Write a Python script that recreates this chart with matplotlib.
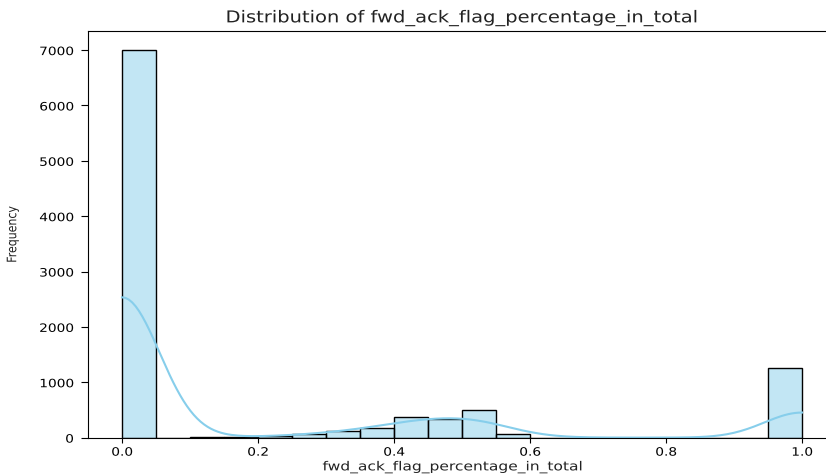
import numpy as np
import matplotlib
matplotlib.use("Agg")
import matplotlib.pyplot as plt
import seaborn as sns
from matplotlib.patheffects import AbstractPathEffect
from matplotlib.transforms import Affine2D

# ---- data ----
bin_values = [0.0, 0.125, 0.175, 0.225, 0.275, 0.325, 0.375, 0.425, 0.475, 0.525, 0.575, 1.0]
bin_counts = [7000, 10, 10, 20, 60, 115, 170, 375, 330, 505, 60, 1250]
x_ticks = [0.0, 0.2, 0.4, 0.6, 0.8, 1.0]
y_ticks = [0, 1000, 2000, 3000, 4000, 5000, 6000, 7000]
title = "Distribution of fwd_ack_flag_percentage_in_total"
x_label = "fwd_ack_flag_percentage_in_total"
y_label = "Frequency"

samples = np.repeat(bin_values, bin_counts)


class HStretch(AbstractPathEffect):
    """Stretch text horizontally (the reference image is stretched)."""
    def __init__(self, sx=1.19, anchor="center"):
        super().__init__()
        self.sx = sx
        self.anchor = anchor

    def draw_path(self, renderer, gc, tpath, affine, rgbFace=None):
        v = affine.transform(tpath.vertices)
        if len(v) == 0:
            return
        if self.anchor == "right":
            cx = v[:, 0].max()
        elif self.anchor == "left":
            cx = v[:, 0].min()
        else:
            cx = 0.5 * (v[:, 0].min() + v[:, 0].max())
        new = affine + Affine2D().translate(-cx, 0).scale(self.sx, 1).translate(cx, 0)
        renderer.draw_path(gc, tpath, new, rgbFace)


fig = plt.figure(figsize=(8.26, 4.77), dpi=100)
ax = fig.add_axes([88 / 826, 1 - 438.6 / 477, 748 / 826, (438.6 - 31.7) / 477])

sns.histplot(samples, bins=20, binrange=(0, 1), kde=True, color="skyblue",
             edgecolor="black", ax=ax)

ax.set_xticks(x_ticks)
ax.set_yticks(y_ticks)
ax.set_xlim(-0.05, 1.05)
ax.set_ylim(0, 7350)

t = ax.set_title(title, fontsize=11.8, color="#222222")
t.set_path_effects([HStretch(1.19)])
xl = ax.set_xlabel(x_label, fontsize=9.0, color="#222222")
xl.set_path_effects([HStretch(1.24)])
ax.xaxis.set_label_coords(0.488, -0.056)
yl = ax.set_ylabel(y_label, fontsize=7.9, color="#222222")
yl.set_path_effects([HStretch(1.19)])
ax.yaxis.set_label_coords(-0.094, 0.5)

ax.tick_params(axis="x", labelsize=8.3, pad=2.3, length=3.5)
ax.tick_params(axis="y", labelsize=8.3, pad=5.3, length=5)
for lab in ax.get_xticklabels():
    lab.set_path_effects([HStretch(1.19)])
for lab in ax.get_yticklabels():
    lab.set_path_effects([HStretch(1.19, anchor="right")])

fig.savefig("out.png", dpi=100)
